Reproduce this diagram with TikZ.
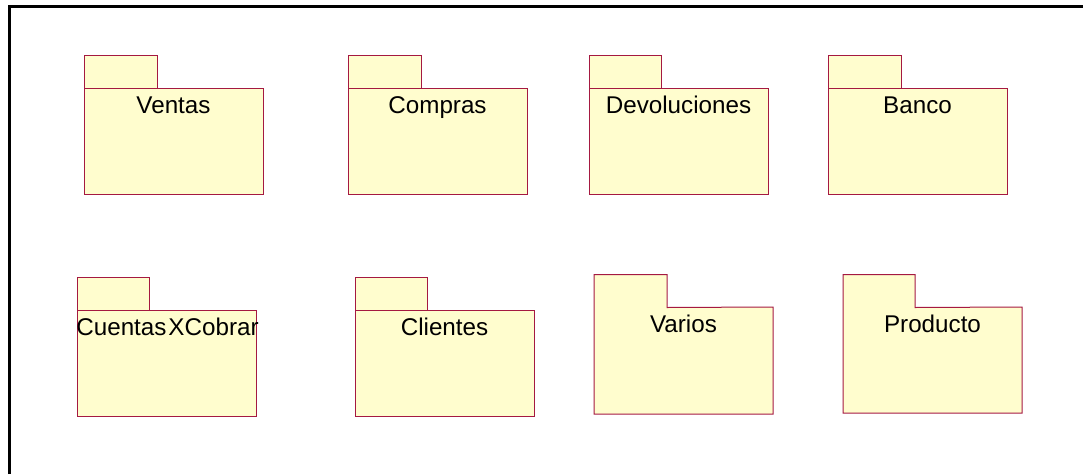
\documentclass[tikz,border=0pt]{standalone}
\usepackage{fontspec}
\setmainfont{Liberation Sans}
\definecolor{pkgfill}{RGB}{255,253,206}
\definecolor{pkgline}{RGB}{165,25,65}
\begin{document}
\begin{tikzpicture}[x=1pt,y=-1pt,
  pkg/.style={fill=pkgfill, draw=pkgline, line width=1pt, inner sep=0pt, outer sep=0pt},
  pkgf/.style={fill=pkgfill, inner sep=0pt, outer sep=0pt},
  outl/.style={draw=pkgline, line width=1pt, line join=miter},
  lbl/.style={font=\fontsize{24.2}{28}\selectfont, anchor=base, inner sep=0pt}]
\useasboundingbox (0,0) rectangle (1083,474);
\draw[line width=3.8pt] (9.5,474) -- (9.5,6.5) -- (1083,6.5);
% row 1
\node[pkg, minimum width=73pt, minimum height=33pt] (ventasT) at (120.5,71.5) {};
\node[pkg, minimum width=179pt, minimum height=106pt] (ventas) at (173.5,141) {};
\node[lbl] (ventasL) at (173.5,113) {Ventas};
\node[pkg, minimum width=73pt, minimum height=33pt] (comprasT) at (384.5,71.5) {};
\node[pkg, minimum width=179pt, minimum height=106pt] (compras) at (437.5,141) {};
\node[lbl] (comprasL) at (437.5,113) {Compras};
\node[pkg, minimum width=72pt, minimum height=33pt] (devT) at (625,71.5) {};
\node[pkg, minimum width=179pt, minimum height=106pt] (dev) at (678.5,141) {};
\node[lbl] (devL) at (678.5,113) {Devoluciones};
\node[pkg, minimum width=73pt, minimum height=33pt] (bancoT) at (864.5,71.5) {};
\node[pkg, minimum width=179pt, minimum height=106pt] (banco) at (917.5,141) {};
\node[lbl] (bancoL) at (917.5,113) {Banco};
% row 2
\node[pkg, minimum width=72pt, minimum height=33pt] (cxcT) at (113,293.5) {};
\node[pkg, minimum width=179pt, minimum height=106pt] (cxc) at (166.5,363) {};
\node[lbl] (cxcL) at (167.5,335) {Cuentas\kern2pt XCobrar};
\node[pkg, minimum width=72pt, minimum height=33pt] (cliT) at (391,293.5) {};
\node[pkg, minimum width=179pt, minimum height=106pt] (cli) at (444.5,363) {};
\node[lbl] (cliL) at (444.5,335) {Clientes};
\node[pkgf, minimum width=73pt, minimum height=33pt] (varT) at (630.5,291) {};
\node[pkgf, minimum width=179pt, minimum height=107pt] (var) at (683.5,360.5) {};
\draw[outl] (varT.north west) -- (varT.north east) -- (varT.south east) -- (var.north east) -- (var.south east) -- (var.south west) -- cycle;
\node[lbl] (varL) at (683.5,332) {Varios};
\node[pkgf, minimum width=72pt, minimum height=33pt] (prodT) at (879,291) {};
\node[pkgf, minimum width=179pt, minimum height=106pt] (prod) at (932.5,360) {};
\draw[outl] (prodT.north west) -- (prodT.north east) -- (prodT.south east) -- (prod.north east) -- (prod.south east) -- (prod.south west) -- cycle;
\node[lbl] (prodL) at (932.5,332) {Producto};
\end{tikzpicture}
\end{document}
